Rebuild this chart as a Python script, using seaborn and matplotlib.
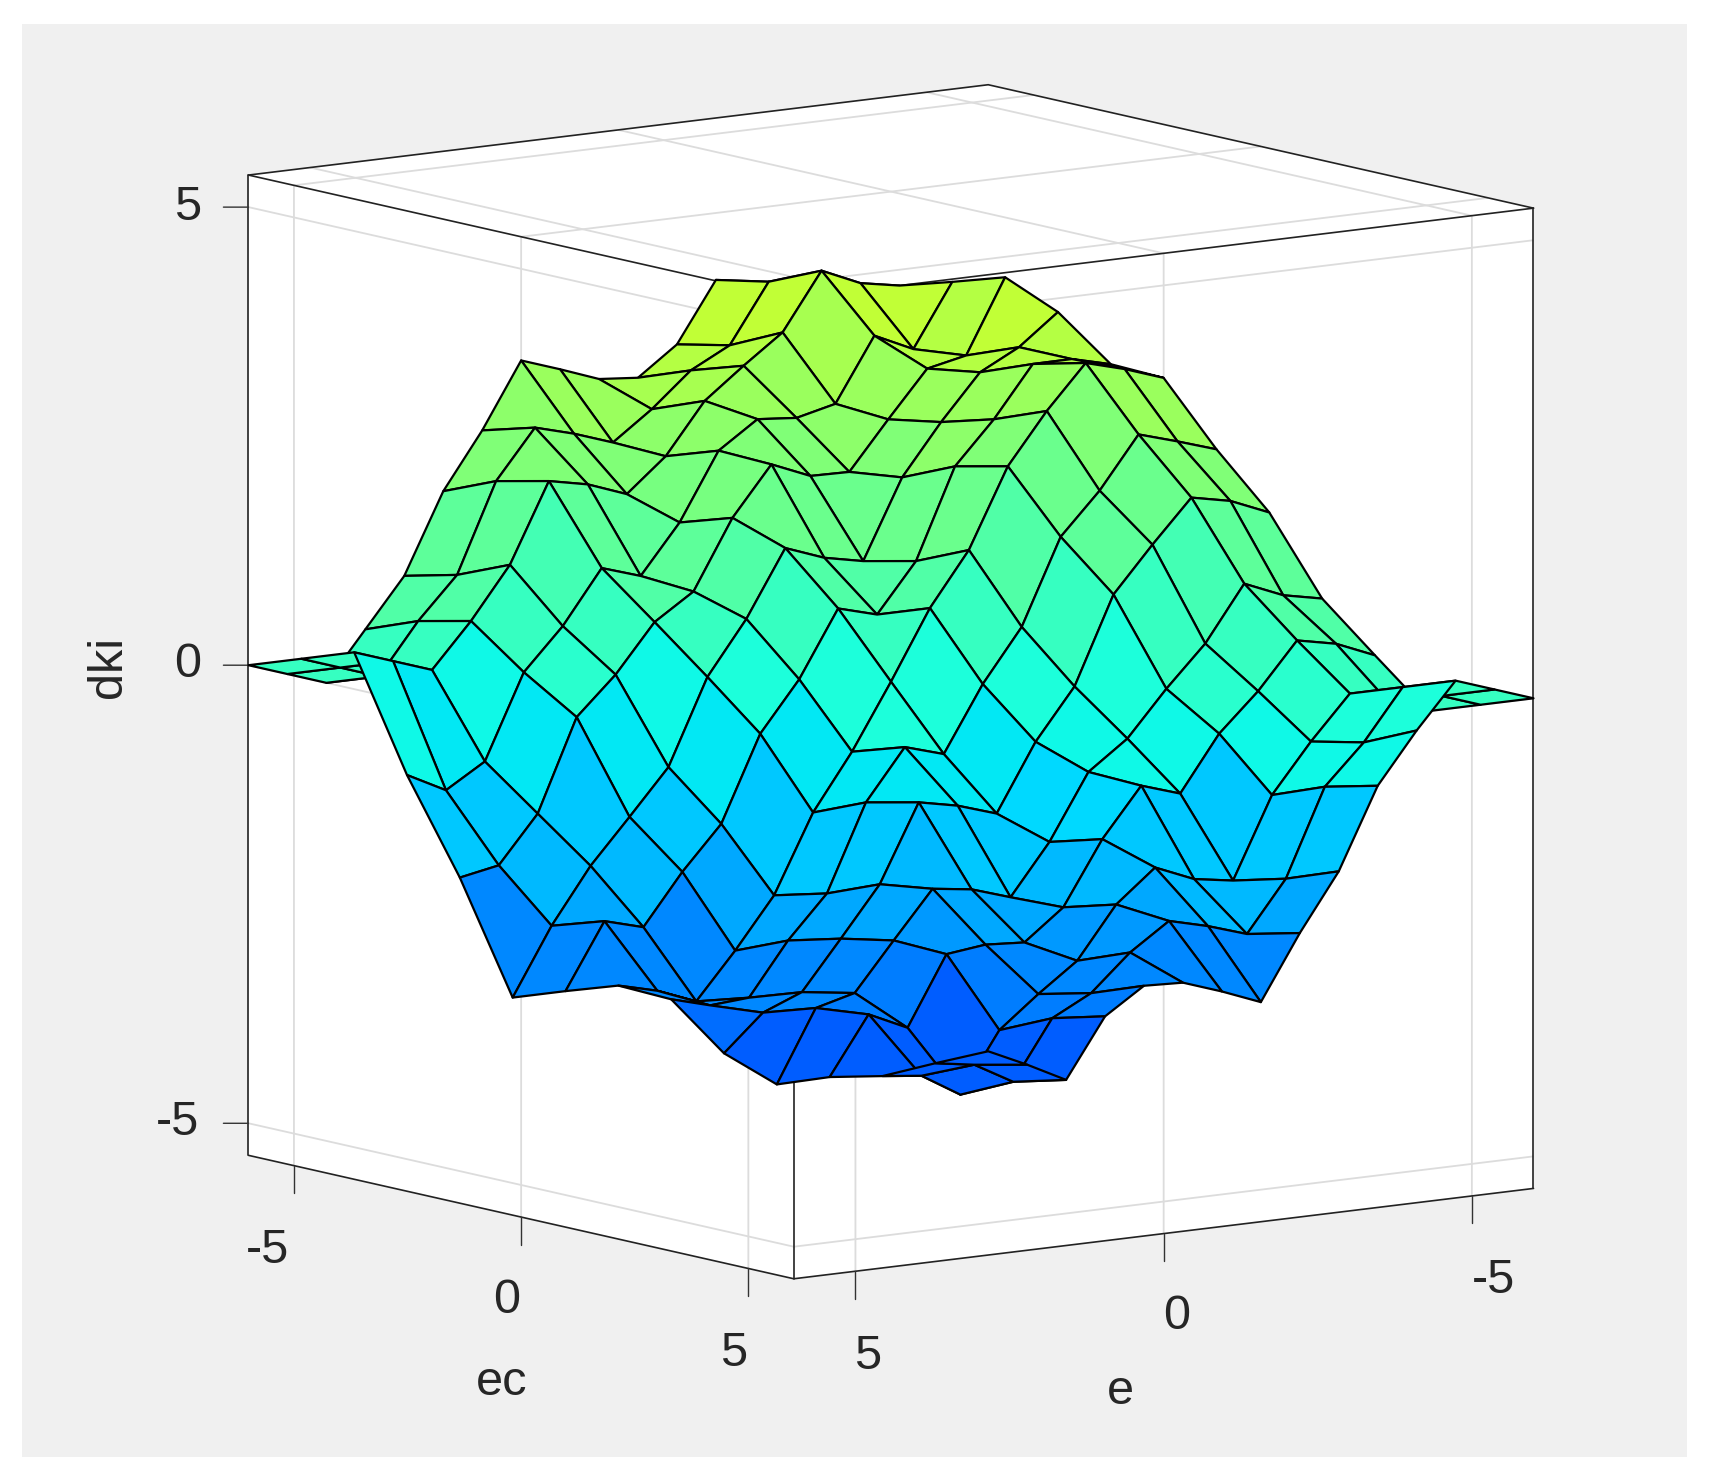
import numpy as np
import matplotlib
matplotlib.use("Agg")
import matplotlib.pyplot as plt
import matplotlib.colors as mcolors
from matplotlib.patches import Rectangle
from mpl_toolkits.mplot3d import proj3d
import seaborn as sns

# grid of the surface
ec_values = np.linspace(-6, 6, 15)
e_values = np.linspace(-6, 6, 15)

# dki, one list per ec value, e going from -6 to 6
dki_ec00 = [-5.20, -5.26, -5.33, -5.27, -5.28, -4.87, -4.21, -3.99, -3.98, -3.98, -2.60, -1.41, 0.00, 0.00, 0.00]
dki_ec01 = [-5.25, -5.18, -5.23, -4.49, -4.35, -4.33, -4.18, -3.95, -3.12, -3.10, -2.37, -1.48, 0.00, 0.00, 0.00]
dki_ec02 = [-5.32, -5.27, -5.34, -4.54, -4.09, -4.01, -4.00, -3.97, -3.09, -2.35, -1.71, -1.07, 0.00, 0.00, 0.00]
dki_ec03 = [-4.53, -4.48, -4.54, -3.64, -3.42, -3.33, -3.28, -3.32, -2.39, -1.72, -0.56, 0.00, 0.63, 0.70, 0.68]
dki_ec04 = [-4.10, -4.11, -4.05, -3.44, -2.76, -2.64, -2.67, -2.62, -1.77, -1.08, 0.00, 0.60, 1.34, 1.30, 1.36]
dki_ec05 = [-3.97, -3.57, -3.59, -3.32, -2.67, -1.65, -1.58, -1.62, -0.69, 0.00, 0.67, 1.33, 2.35, 2.42, 2.38]
dki_ec06 = [-3.97, -3.13, -2.88, -2.84, -2.66, -1.59, -0.88, -0.86, 0.00, 0.73, 1.10, 1.34, 2.41, 3.10, 3.14]
dki_ec07 = [-3.99, -3.09, -2.38, -2.00, -1.96, -1.58, -0.86, 0.00, 0.87, 1.60, 2.00, 2.02, 2.40, 3.13, 4.00]
dki_ec08 = [-3.14, -3.08, -2.41, -1.32, -1.10, -0.70, 0.00, 0.90, 0.90, 1.59, 2.68, 2.90, 2.91, 3.13, 4.00]
dki_ec09 = [-2.37, -2.38, -2.33, -1.31, -0.64, 0.00, 0.72, 1.63, 1.58, 1.65, 2.65, 3.34, 3.61, 3.59, 3.99]
dki_ec10 = [-1.34, -1.28, -1.30, -0.56, 0.00, 1.10, 1.80, 2.64, 2.71, 2.66, 2.79, 3.45, 4.09, 4.11, 4.10]
dki_ec11 = [-0.64, -0.70, -0.62, 0.00, 0.59, 1.74, 2.40, 3.34, 3.32, 3.36, 3.46, 3.70, 4.55, 4.48, 4.56]
dki_ec12 = [0.00, 0.00, 0.00, 0.65, 1.34, 2.35, 3.11, 3.96, 4.02, 4.00, 4.11, 4.54, 5.32, 5.27, 5.36]
dki_ec13 = [0.00, 0.00, 0.00, 0.71, 1.31, 2.41, 3.13, 3.99, 4.17, 4.37, 4.35, 4.49, 5.28, 5.30, 5.35]
dki_ec14 = [0.00, 0.00, 0.00, 0.68, 1.37, 2.38, 3.14, 3.99, 4.21, 4.85, 5.30, 5.32, 5.35, 5.30, 5.35]

tick_values = [-5, 0, 5]
tick_labels = ['-5', '0', '5']

W, H = 1709, 1480
TXT = '#262626'
FS = 35

sns.set_theme(style='whitegrid', rc={'grid.color': '#dcdcdc', 'grid.linewidth': 1.3})
plt.rcParams['font.family'] = ['Liberation Sans', 'DejaVu Sans']

Z = np.array([dki_ec00, dki_ec01, dki_ec02, dki_ec03, dki_ec04, dki_ec05, dki_ec06, dki_ec07,
              dki_ec08, dki_ec09, dki_ec10, dki_ec11, dki_ec12, dki_ec13, dki_ec14]).T
X, Y = np.meshgrid(ec_values, e_values)

fig = plt.figure(figsize=(W / 100, H / 100), dpi=100, facecolor='white')
fig.patches.append(Rectangle((22 / W, 1 - 1457 / H), (1687 - 22) / W, (1457 - 24) / H, zorder=-1,
                             transform=fig.transFigure, facecolor='#f0f0f0', edgecolor='none', figure=fig))

ax = fig.add_axes([0.1, 0.05, 0.8, 0.8 * W / H], projection='3d', proj_type='ortho', computed_zorder=False)
ax.set_facecolor('none')
ax.view_init(elev=-9.57, azim=216.3)
ax.set_box_aspect((845, 842, 912))

zmin, zmax = -5.35, 5.35
ax.set_xlim(-6, 6, view_margin=0)
ax.set_ylim(-6, 6, view_margin=0)
ax.set_zlim(zmin, zmax, view_margin=0)

# jet in 64 steps, as the original colormap, only the middle part is used
cmap = mcolors.ListedColormap(sns.mpl_palette('jet', 64))
norm = mcolors.Normalize(vmin=-10.98, vmax=15.54)
ax.plot_surface(X, Y, Z, rstride=1, cstride=1, facecolors=cmap(norm(Z)), shade=False,
                edgecolor='black', linewidth=1.6, antialiased=True, zorder=5)

for axis in (ax.xaxis, ax.yaxis, ax.zaxis):
    axis.set_pane_color((1, 1, 1, 1))
    axis.pane.set_edgecolor((1, 1, 1, 0))
    axis.line.set_color((1, 1, 1, 0))
    axis.set_ticks(tick_values)
    axis.set_ticklabels(['', '', ''])
ax.tick_params(color=(1, 1, 1, 0))
ax.grid(True)

# box edges, the far ones lie behind the surface
edge = dict(color='#222222', lw=1.2, solid_capstyle='round')
ax.plot([-6, 6, 6], [6, 6, -6], [zmax, zmax, zmax], zorder=2, **edge)
ax.plot([-6, -6, 6], [6, -6, -6], [zmax, zmax, zmax], zorder=2, **edge)
ax.plot([-6, 6, 6], [6, 6, -6], [zmin, zmin, zmin], zorder=2, **edge)
for cx, cy in [(-6, 6), (6, -6), (6, 6)]:
    ax.plot([cx, cx], [cy, cy], [zmin, zmax], zorder=2, **edge)

# tick marks
tick = dict(color='#333333', lw=1.0)
for t in tick_values:
    ax.plot([t, t], [6, 6], [zmin, zmin - 0.3], zorder=2, **tick)
    ax.plot([6, 6], [t, t], [zmin, zmin - 0.3], zorder=2, **tick)
    ax.plot([-6, -6.194], [6, 6.264], [t, t], zorder=2, **tick)

# fit the axes so the box lands on the same pixels as the reference
target = (248.5, 1533.5, 85.0, 1278.5)
fig.canvas.draw()
for _ in range(2):
    xs, ys = np.meshgrid([-6, 6], [-6, 6])
    cx = np.r_[xs.ravel(), xs.ravel()]
    cy = np.r_[ys.ravel(), ys.ravel()]
    cz = np.r_[np.full(4, zmin), np.full(4, zmax)]
    px, py, _z = proj3d.proj_transform(cx, cy, cz, ax.get_proj())
    pts = ax.transData.transform(np.c_[px, py])
    scale = (target[1] - target[0]) / (pts[:, 0].max() - pts[:, 0].min())
    pos = ax.get_position(original=True)
    cxp = (pts[:, 0].max() + pts[:, 0].min()) / 2
    cyp = (pts[:, 1].max() + pts[:, 1].min()) / 2
    ax_cx = (pos.x0 + pos.width / 2) * W
    ax_cy = (pos.y0 + pos.height / 2) * H
    new_w = pos.width * W * scale
    new_h = pos.height * H * scale
    new_cx = (target[0] + target[1]) / 2 - (cxp - ax_cx) * scale
    new_cy = (H - (target[2] + target[3]) / 2) - (cyp - ax_cy) * scale
    ax.set_position([(new_cx - new_w / 2) / W, (new_cy - new_h / 2) / H, new_w / W, new_h / H])
    fig.canvas.draw()


def put(x, y, s, **kw):
    # x, y are pixels of the reduced view of the picture
    fig.text(x / 0.9175 / W, 1 - y / 0.9175 / H, s, ha='center', va='center',
             fontsize=FS, color=TXT, **kw)


for lab, y in zip(tick_labels, [1030, 610, 190]):
    put(163 if lab == '-5' else 172, y, lab)
for lab, x, y in zip(tick_labels, [245, 465, 673], [1147, 1193, 1242]):
    put(x, y, lab)
for lab, x, y in zip(tick_labels, [1370, 1080, 796], [1175, 1208, 1245]):
    put(x, y, lab)
put(460, 1268, 'ec')
put(1028, 1277, 'e')
put(100, 612, 'dki', rotation=90)

fig.savefig('out.png', dpi=100)
